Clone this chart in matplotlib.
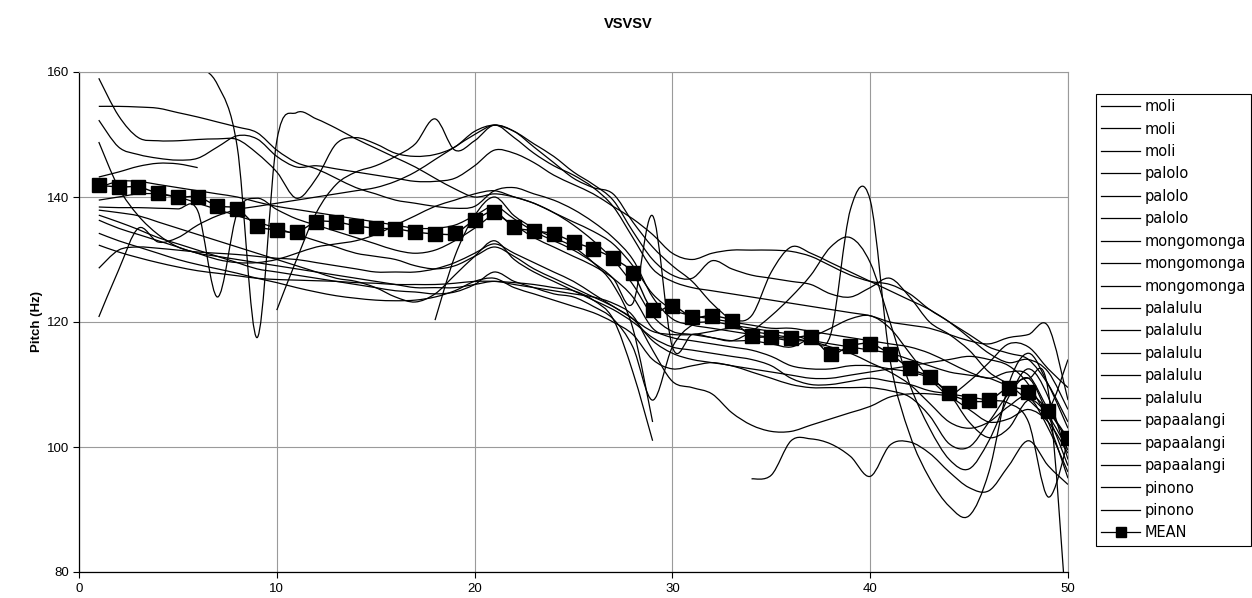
import numpy as np
import matplotlib.pyplot as plt
from matplotlib.path import Path
from matplotlib.patches import PathPatch
from matplotlib.lines import Line2D

plt.rcParams['font.family'] = ['Liberation Sans', 'DejaVu Sans']

nan = np.nan
x = np.arange(1, 51)

moli_1 = [159.0, 153.0, 149.5, 149.0, 149.0, 149.2, 149.3, 149.2, 147.0, 144.0,
          139.8, 143.0, 148.5, 149.5, 148.5, 147.0, 146.5, 146.8, 148.0, 150.5,
          151.5, 150.5, 148.5, 146.5, 144.0, 142.0, 139.5, 134.5, 130.0, 127.5,
          127.0, 129.8, 128.5, 127.5, 127.0, 126.5, 126.0, 124.5, 124.0, 125.5,
          127.0, 124.0, 120.0, 118.0, 115.5, 112.0, 110.0, 107.5, 106.0, 114.0]
moli_2 = [154.5, 154.5, 154.4, 154.2, 153.5, 152.8, 152.0, 151.2, 150.3, 147.5,
          145.5, 144.5, 143.0, 141.5, 140.5, 139.5, 139.0, 138.5, 138.2, 138.5,
          141.0, 141.5, 140.5, 139.5, 138.0, 136.0, 133.5, 130.0, 124.0, 120.5,
          119.5, 119.0, 118.5, 118.0, 117.5, 117.0, 117.0, 116.5, 116.0, 115.5,
          115.0, 114.0, 113.0, 112.0, 111.5, 111.0, 110.0, 111.0, 109.0, 70.0]
moli_3 = [152.3, 148.0, 146.8, 146.2, 145.9, 146.2, 148.0, 149.8, 149.3, 146.5,
          144.8, 145.0, 144.5, 144.0, 143.5, 143.0, 142.5, 142.5, 143.0, 145.0,
          147.5, 147.0, 145.5, 143.5, 142.0, 140.5, 138.5, 136.5, 134.0, 131.0,
          130.0, 131.0, 131.5, 131.5, 131.5, 131.3, 130.5, 129.0, 127.5, 126.5,
          126.0, 124.5, 122.0, 120.0, 117.5, 115.0, 113.5, 114.0, 112.0, 106.0]
palolo_1 = [148.8, 141.5, 137.0, 134.0, 132.0, 131.0, 130.0, 129.5, 129.5, 130.0,
            131.0, 132.0, 132.5, 133.0, 134.0, 135.5, 137.0, 138.5, 139.5, 140.5,
            141.0, 140.0, 139.0, 137.5, 135.5, 133.0, 130.0, 126.0, 121.0, 118.5,
            118.0, 117.5, 117.0, 118.5, 121.0, 124.0, 127.5, 132.0, 133.5, 129.5,
            120.0, 110.0, 103.0, 98.0, 96.5, 101.0, 108.0, 112.5, 108.0, 98.0]
palolo_2 = [143.2, 144.0, 144.9, 145.4, 145.3, 144.7] + [nan] * 44
palolo_3 = [138.4, 138.3, 138.3, 138.2, 138.1, 137.8, 124.0, 137.5, 139.8, 138.0,
            136.5, 135.5, 134.5, 133.5, 132.5, 131.5, 131.0, 131.5, 133.0, 135.0,
            137.0, 135.5, 133.5, 132.0, 130.5, 129.0, 127.0, 124.0, 119.0, 117.5,
            117.0, 116.5, 116.0, 115.5, 114.5, 113.0, 112.5, 112.5, 113.0, 113.0,
            112.5, 112.0, 111.0, 108.5, 104.0, 101.5, 103.0, 107.5, 105.0, 99.5]
mongomonga_1 = [nan, nan, nan, nan, 161.3, 160.8, 158.0, 148.0, 117.5, 149.0,
                153.5, 152.5, 151.0, 149.3, 147.8, 146.3, 144.8, 143.0, 141.3, 140.0,
                140.5, 140.0, 139.0, 137.5, 136.0, 134.5, 132.5, 129.0, 124.5, 122.0,
                121.0, 120.5, 120.0, 119.5, 119.0, 119.0, 118.5, 118.0, 117.5, 117.0,
                116.5, 116.0, 115.0, 113.5, 112.0, 111.0, 112.0, 111.5, 106.0, 101.0]
mongomonga_2 = [120.8, 128.3, 135.0, 132.8, 133.5, 135.5, 137.0, 138.0, 138.5, 139.0,
                139.5, 140.0, 140.5, 141.0, 141.5, 142.5, 144.0, 146.0, 148.0, 150.0,
                151.5, 150.5, 148.0, 145.5, 143.0, 141.5, 140.5, 136.0, 132.0, 129.0,
                126.5, 123.0, 120.5, 121.0, 128.0, 132.0, 131.0, 129.5, 128.0, 126.5,
                125.0, 123.5, 122.0, 120.0, 118.0, 116.0, 115.0, 114.0, 110.0, 104.0]
mongomonga_3 = [128.6, 131.5, 132.0, 131.8, 131.5, 131.2, 131.0, 130.8, 130.5, 130.2,
                130.0, 129.5, 129.0, 128.5, 128.0, 128.0, 128.0, 128.5, 129.5, 131.0,
                132.5, 131.0, 129.5, 128.0, 126.5, 124.5, 122.5, 120.5, 117.0, 115.0,
                114.0, 113.5, 113.0, 112.0, 111.0, 110.0, 109.5, 109.5, 109.5, 109.5,
                109.0, 108.0, 105.0, 100.5, 100.0, 104.0, 108.5, 111.0, 105.0, 97.0]
palalulu_1 = [139.5, 140.0, 140.5, 140.5, 140.0, 139.0, 138.0, 137.0, 136.0, 135.0,
              134.0, 133.0, 132.0, 131.0, 130.5, 130.0, 129.0, 128.5, 129.0, 130.5,
              132.0, 130.5, 128.5, 127.0, 125.5, 124.0, 122.5, 120.5, 118.5, 118.0,
              118.0, 118.5, 119.0, 118.5, 118.0, 117.5, 117.0, 118.0, 138.0, 139.5,
              114.0, 102.0, 95.0, 90.5, 89.0, 96.0, 110.0, 115.0, 110.0, 103.0]
palalulu_2 = [137.9, 137.5, 137.0, 136.0, 135.0, 134.0, 133.0, 132.0, 131.0, 130.0,
              129.0, 128.0, 127.0, 126.5, 125.5, 124.0, 123.2, 124.5, 127.5, 130.5,
              133.0, 130.0, 128.0, 126.5, 125.0, 123.5, 122.0, 120.0, 117.5, 116.0,
              115.5, 115.0, 114.5, 114.0, 113.0, 111.0, 110.0, 110.0, 110.5, 111.0,
              110.5, 110.0, 109.0, 108.5, 108.0, 107.5, 107.0, 104.0, 92.0, 101.0]
palalulu_3 = [137.1, 136.0, 134.8, 133.5, 132.5, 131.5, 130.5, 129.5, 128.5, 128.0,
              127.5, 127.0, 126.5, 126.0, 125.5, 125.0, 124.8, 124.5, 124.8, 126.0,
              128.0, 126.5, 125.5, 124.5, 124.0, 122.5, 120.5, 116.0, 107.5, 116.0,
              119.5, 120.0, 119.5, 119.0, 118.5, 118.0, 117.0, 116.0, 115.0, 113.5,
              112.0, 110.0, 107.0, 104.0, 103.0, 104.0, 106.5, 108.0, 103.0, 96.0]
palalulu_4 = [136.3, 135.0, 134.0, 133.0, 132.0, 131.0, 130.5, 130.0, 129.5, 129.0,
              128.5, 128.0, 127.5, 127.0, 126.5, 126.0, 125.5, 125.5, 125.5, 126.0,
              126.5, 126.0, 125.5, 125.0, 124.5, 124.0, 123.0, 121.0, 115.5, 110.5,
              109.5, 108.5, 105.5, 103.5, 102.5, 102.5, 103.5, 104.5, 105.5, 106.5,
              108.0, 108.5, 108.5, 108.0, 106.0, 104.0, 104.5, 106.0, 104.0, 99.0]
palalulu_5 = [132.3, 131.2, 130.3, 129.5, 128.8, 128.2, 127.8, 127.4, 127.0, 126.8,
              126.7, 126.6, 126.5, 126.3, 126.2, 126.0, 126.0, 126.0, 126.2, 126.5,
              126.5, 126.3, 126.0, 125.5, 125.0, 123.5, 120.5, 112.0, 101.0] + [nan] * 21
papaalangi_1 = [nan] * 9 + [121.9, 130.0, 137.5, 142.0, 144.0, 145.0, 146.5, 148.5, 152.5, 147.5, 149.0,
                            151.5, 149.5, 147.0, 145.0, 143.5, 141.5, 138.5, 133.5, 128.5, 126.5,
                            125.5, 125.0, 124.5, 124.0, 123.5, 123.0, 122.5, 122.0, 121.5, 121.0,
                            120.0, 119.5, 119.0, 118.0, 117.0, 116.5, 117.5, 118.0, 119.3, 107.5]
papaalangi_2 = [nan] * 17 + [120.3, 130.5, 137.0, 140.0, 137.0, 135.0, 133.5, 132.0, 129.5, 126.0,
                             119.0, 104.0] + [nan] * 21
papaalangi_3 = [141.5, 142.5, 142.5, 142.0, 141.5, 141.0, 140.5, 140.0, 139.2, 138.5,
                138.0, 137.5, 137.0, 136.5, 136.0, 135.5, 135.0, 135.0, 135.5, 137.0,
                138.5, 136.5, 134.5, 133.0, 131.5, 129.5, 127.0, 123.0, 137.0, 116.0,
                118.0, 117.5, 117.0, 117.0, 116.5, 116.0, 117.5, 119.0, 120.5, 121.0,
                119.0, 115.0, 111.0, 108.5, 110.5, 113.5, 116.5, 116.0, 112.5, 109.5]
pinono_1 = [nan] * 33 + [94.9, 95.5, 101.0, 101.3, 100.5, 98.5, 95.3, 100.3, 100.8, 99.0,
                         96.0, 93.5, 93.0, 97.0, 101.0, 97.0, 94.0]
pinono_2 = [134.2, 133.0, 132.0, 131.0, 130.0, 129.2, 128.5, 127.8, 127.0, 126.3,
            125.5, 124.8, 124.2, 123.8, 123.5, 123.4, 123.5, 124.0, 125.0, 126.5,
            127.0, 125.5, 124.5, 123.5, 122.5, 121.5, 120.0, 118.0, 114.0, 112.5,
            113.0, 113.5, 113.0, 112.5, 112.0, 111.5, 111.0, 111.0, 111.5, 112.0,
            112.5, 113.0, 113.5, 114.0, 114.5, 114.0, 113.0, 110.0, 104.0, 95.0]

mean_pitch = [141.9, 141.6, 141.6, 140.6, 140.0, 140.0, 138.6, 138.1, 135.4, 134.7,
              134.4, 136.0, 136.0, 135.4, 135.0, 134.9, 134.4, 134.1, 134.2, 136.3,
              137.6, 135.2, 134.6, 134.1, 132.8, 131.7, 130.2, 127.8, 121.9, 122.6,
              120.8, 121.0, 120.2, 117.8, 117.6, 117.4, 117.6, 114.9, 116.2, 116.5,
              114.9, 112.6, 111.2, 108.6, 107.4, 107.5, 109.4, 108.8, 105.8, 101.4]

series = [moli_1, moli_2, moli_3, palolo_1, palolo_2, palolo_3,
          mongomonga_1, mongomonga_2, mongomonga_3,
          palalulu_1, palalulu_2, palalulu_3, palalulu_4, palalulu_5,
          papaalangi_1, papaalangi_2, papaalangi_3, pinono_1, pinono_2]
labels = (["moli"] * 3 + ["palolo"] * 3 + ["mongomonga"] * 3 + ["palalulu"] * 5
          + ["papaalangi"] * 3 + ["pinono"] * 2)


def smooth_path(xs, ys):
    # excel-like smoothed line: catmull-rom segments as cubic beziers
    verts = [(xs[0], ys[0])]
    codes = [Path.MOVETO]
    n = len(xs)
    for i in range(n - 1):
        x0, y0 = (xs[i - 1], ys[i - 1]) if i > 0 else (xs[i], ys[i])
        x1, y1 = xs[i], ys[i]
        x2, y2 = xs[i + 1], ys[i + 1]
        x3, y3 = (xs[i + 2], ys[i + 2]) if i + 2 < n else (x2, y2)
        verts.append((x1 + (x2 - x0) / 6, y1 + (y2 - y0) / 6))
        verts.append((x2 - (x3 - x1) / 6, y2 - (y3 - y1) / 6))
        verts.append((x2, y2))
        codes += [Path.CURVE4] * 3
    return Path(verts, codes)


def draw_smooth(ax, xs, ys, **kw):
    ys = np.asarray(ys, dtype=float)
    ok = np.isfinite(ys)
    idx = np.flatnonzero(ok)
    runs = np.split(idx, np.flatnonzero(np.diff(idx) > 1) + 1)
    for r in runs:
        if len(r) > 1:
            ax.add_patch(PathPatch(smooth_path(xs[r], ys[r]), fill=False, **kw))


W, H = 1252, 598
fig = plt.figure(figsize=(W / 100, H / 100), dpi=100)
ax = fig.add_axes([79 / W, 26 / H, (1068 - 79) / W, (572 - 72) / H])

for s in series:
    draw_smooth(ax, x, s, edgecolor="black", lw=0.9)
draw_smooth(ax, x, mean_pitch, edgecolor="black", lw=1.0)
ax.plot(x, mean_pitch, "s", color="black", ms=9.5, zorder=5)

ax.set_xlim(0, 50)
ax.set_ylim(80, 160)
ax.set_xticks(range(0, 51, 10))
ax.set_yticks(range(80, 161, 20))
ax.grid(True, color="#9a9a9a", lw=0.8)
ax.set_axisbelow(True)
for side in ["top", "right"]:
    ax.spines[side].set_color("#9a9a9a")
    ax.spines[side].set_linewidth(0.8)
for side in ["left", "bottom"]:
    ax.spines[side].set_color("black")
    ax.spines[side].set_linewidth(0.9)
ax.tick_params(direction="out", length=4, width=0.8, labelsize=9.5, pad=3)
ax.tick_params(axis="x", pad=4)

ax.set_ylabel("Pitch (Hz)", fontweight="bold", fontsize=9.5)
ax.yaxis.set_label_coords(-36 / 989, 0.5)
fig.text(628 / W, 1 - 24 / H, "VSVSV", ha="center", va="center",
         fontweight="bold", fontsize=10.5)

handles = [Line2D([], [], color="black", lw=0.9) for _ in series]
handles.append(Line2D([], [], color="black", lw=0.9, marker="s", ms=7))
leg = fig.legend(handles, labels + ["MEAN"], loc="upper left",
                 bbox_to_anchor=(1096 / W, 1 - 94 / H), borderaxespad=0,
                 prop={"family": "DejaVu Sans", "size": 10.5},
                 frameon=True, fancybox=False, framealpha=1,
                 edgecolor="black", labelspacing=0.51, handlelength=2.7,
                 handletextpad=0.3, borderpad=0.35)
leg.get_frame().set_linewidth(0.8)

fig.savefig("out.png", dpi=100)
